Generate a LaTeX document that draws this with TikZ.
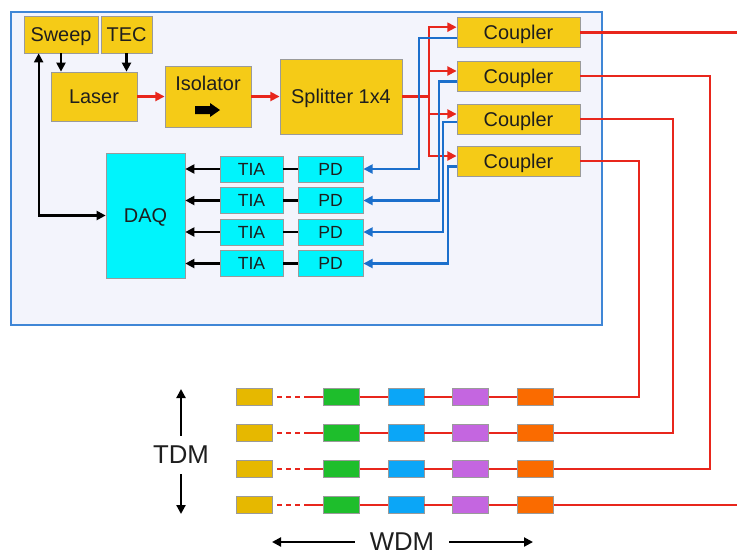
\documentclass[tikz,border=0pt]{standalone}
\usepackage{fontspec}
\setmainfont{Liberation Sans}
\usetikzlibrary{arrows.meta}
\definecolor{ink}{HTML}{1E1E1E}
\definecolor{edgegray}{HTML}{9A9A9A}
\definecolor{labyellow}{HTML}{F5CB17}
\definecolor{daqcyan}{HTML}{00F4FC}
\definecolor{fibred}{HTML}{E8261C}
\definecolor{retblue}{HTML}{1B6FCC}
\definecolor{frameblue}{HTML}{3F86D6}
\definecolor{framefill}{HTML}{F3F4FC}
\definecolor{snsyellow}{HTML}{E6B800}
\definecolor{snsgreen}{HTML}{1EBE2C}
\definecolor{snsblue}{HTML}{0BA6F7}
\definecolor{snspurple}{HTML}{C466E0}
\definecolor{snsorange}{HTML}{FA6B00}

\begin{document}
\begin{tikzpicture}[
  x=0.03cm, y=-0.03cm,
  lab/.style={draw=edgegray, line width=0.6pt, fill=labyellow, inner sep=0pt,
    text=ink, text depth=0pt, font=\fontsize{17}{20}\selectfont},
  acq/.style={draw=edgegray, line width=0.6pt, fill=daqcyan, inner sep=0pt,
    text=ink, text depth=0pt, font=\fontsize{15}{18}\selectfont},
  sensor/.style={draw=edgegray, line width=0.6pt, inner sep=0pt,
    minimum width=1.08cm, minimum height=0.51cm},
  fiber/.style={draw=fibred, line width=2.1pt},
  fibarr/.style={fiber, -{Triangle[length=0.28cm, width=0.27cm]}},
  lead/.style={fiber, dash pattern=on 0pt off 0.15cm on 0.15cm off 0.12cm
    on 0.15cm off 0.12cm on 0.15cm off 0.12cm on 3cm},
  ret/.style={draw=retblue, line width=2.1pt, -{Triangle[length=0.28cm, width=0.27cm]}},
  sig/.style={draw=black, line width=1.8pt, -{Triangle[length=0.27cm, width=0.27cm]}},
  axislab/.style={text=ink, text depth=0pt, font=\fontsize{22}{26}\selectfont}
]
\useasboundingbox (0,0) rectangle (737,555);

\draw[draw=frameblue, fill=framefill, line width=1.2pt] (11,12) rectangle (602,325);

\node[lab, minimum width=2.22cm, minimum height=1.11cm] (sweep) at (61,34.5) {Sweep};
\node[lab, minimum width=1.53cm, minimum height=1.11cm] (tec) at (126.5,34.5) {TEC};
\node[lab, minimum width=2.58cm, minimum height=1.47cm] (laser) at (94,96.5) {Laser};
\node[lab, minimum width=2.58cm, minimum height=1.83cm] (iso) at (208,96.5) {};
\node[text=ink, text depth=0pt, font=\fontsize{17}{20}\selectfont] (isolbl) at (208,83) {Isolator};
\coordinate (isoarr) at (207.5,110);
\fill[black] (isoarr) ++(-12.5,-4) -- ++(15,0) -- ++(0,-3) -- ++(10,7)
  -- ++(-10,7) -- ++(0,-3) -- ++(-15,0) -- cycle;
\node[lab, minimum width=3.66cm, minimum height=2.25cm] (split) at (341,96.5) {Splitter 1x4};

\node[lab, minimum width=3.69cm, minimum height=0.9cm] (cpl1) at (518.5,32.5) {Coupler};
\node[lab, minimum width=3.69cm, minimum height=0.9cm] (cpl2) at (518.5,76) {Coupler};
\node[lab, minimum width=3.69cm, minimum height=0.9cm] (cpl3) at (518.5,119) {Coupler};
\node[lab, minimum width=3.69cm, minimum height=0.9cm] (cpl4) at (518.5,161) {Coupler};

\node[acq, minimum width=2.37cm, minimum height=3.75cm,
  font=\fontsize{17}{20}\selectfont] (daq) at (145.5,215.5) {DAQ};
\node[acq, minimum width=1.89cm, minimum height=0.78cm] (tia1) at (251.5,169) {TIA};
\node[acq, minimum width=1.89cm, minimum height=0.78cm] (tia2) at (251.5,200.5) {TIA};
\node[acq, minimum width=1.89cm, minimum height=0.78cm] (tia3) at (251.5,232) {TIA};
\node[acq, minimum width=1.89cm, minimum height=0.78cm] (tia4) at (251.5,263.5) {TIA};
\node[acq, minimum width=1.95cm, minimum height=0.78cm] (pd1) at (330.5,169) {PD};
\node[acq, minimum width=1.95cm, minimum height=0.78cm] (pd2) at (330.5,200.5) {PD};
\node[acq, minimum width=1.95cm, minimum height=0.78cm] (pd3) at (330.5,232) {PD};
\node[acq, minimum width=1.95cm, minimum height=0.78cm] (pd4) at (330.5,263.5) {PD};

\draw[sig] (sweep.south) -- (sweep.south |- laser.north);
\draw[sig] (tec.south) -- (tec.south |- laser.north);
\draw[sig, {Triangle[length=0.27cm, width=0.27cm]}-{Triangle[length=0.27cm, width=0.27cm]}]
  ([xshift=0.45cm]sweep.south west) |- (daq.west);
\draw[fibarr] (laser) -- (iso);
\draw[fibarr] (iso) -- (split);

\coordinate (bus) at (429,96.5);
\draw[fibarr] (split.east) -- (bus) |- ([yshift=0.16cm]cpl1.west);
\draw[fibarr] (split.east) -- (bus) |- ([yshift=0.15cm]cpl2.west);
\draw[fibarr] (split.east) -- (bus) |- ([yshift=0.15cm]cpl3.west);
\draw[fibarr] (split.east) -- (bus) |- ([yshift=0.15cm]cpl4.west);

\coordinate (ret1) at (419,100);
\coordinate (ret2) at (439,150);
\coordinate (ret3) at (443,180);
\coordinate (ret4) at (448,220);
\draw[ret] ([yshift=-0.17cm]cpl1.west) -| (ret1) |- (pd1.east);
\draw[ret] ([yshift=-0.17cm]cpl2.west) -| (ret2) |- (pd2.east);
\draw[ret] ([yshift=-0.09cm]cpl3.west) -| (ret3) |- (pd3.east);
\draw[ret] ([yshift=-0.17cm]cpl4.west) -| (ret4) |- (pd4.east);

\draw[sig] (tia1) -- (daq.east |- tia1.west);
\draw[sig] (tia2) -- (daq.east |- tia2.west);
\draw[sig] (tia3) -- (daq.east |- tia3.west);
\draw[sig] (tia4) -- (daq.east |- tia4.west);
\draw[line width=1.8pt] (pd1) -- (tia1);
\draw[line width=1.8pt] (pd2) -- (tia2);
\draw[line width=1.8pt] (pd3) -- (tia3);
\draw[line width=1.8pt] (pd4) -- (tia4);

\node[sensor, fill=snsyellow] (yel1) at (254,397) {};
\node[sensor, fill=snsgreen] (grn1) at (341.5,397) {};
\node[sensor, fill=snsblue] (blu1) at (406,397) {};
\node[sensor, fill=snspurple] (pur1) at (470.5,397) {};
\node[sensor, fill=snsorange] (org1) at (535.5,397) {};
\node[sensor, fill=snsyellow] (yel2) at (254,433) {};
\node[sensor, fill=snsgreen] (grn2) at (341.5,433) {};
\node[sensor, fill=snsblue] (blu2) at (406,433) {};
\node[sensor, fill=snspurple] (pur2) at (470.5,433) {};
\node[sensor, fill=snsorange] (org2) at (535.5,433) {};
\node[sensor, fill=snsyellow] (yel3) at (254,469) {};
\node[sensor, fill=snsgreen] (grn3) at (341.5,469) {};
\node[sensor, fill=snsblue] (blu3) at (406,469) {};
\node[sensor, fill=snspurple] (pur3) at (470.5,469) {};
\node[sensor, fill=snsorange] (org3) at (535.5,469) {};
\node[sensor, fill=snsyellow] (yel4) at (254,505) {};
\node[sensor, fill=snsgreen] (grn4) at (341.5,505) {};
\node[sensor, fill=snsblue] (blu4) at (406,505) {};
\node[sensor, fill=snspurple] (pur4) at (470.5,505) {};
\node[sensor, fill=snsorange] (org4) at (535.5,505) {};

\draw[lead] (yel1.east) -- (grn1.west);
\draw[lead] (yel2.east) -- (grn2.west);
\draw[lead] (yel3.east) -- (grn3.west);
\draw[lead] (yel4.east) -- (grn4.west);
\draw[fiber] (grn1) -- (blu1) -- (pur1) -- (org1);
\draw[fiber] (grn2) -- (blu2) -- (pur2) -- (org2);
\draw[fiber] (grn3) -- (blu3) -- (pur3) -- (org3);
\draw[fiber] (grn4) -- (blu4) -- (pur4) -- (org4);

\coordinate (edge1) at (737,32.5);
\coordinate (edge4) at (737,505);
\coordinate (down2) at (710,300);
\coordinate (down3) at (673,300);
\coordinate (down4) at (639,300);
\draw[fiber] (cpl1.east) -- (edge1);
\draw[fiber] (cpl2.east) -| (down2) |- (org3.east);
\draw[fiber] (cpl3.east) -| (down3) |- (org2.east);
\draw[fiber] (cpl4.east) -| (down4) |- (org1.east);
\draw[fiber] (org4.east) -- (edge4);

\node[axislab, inner ysep=0.3cm] (tdm) at (181,455) {TDM};
\coordinate (tdmup) at (181,389);
\coordinate (tdmdown) at (181,514);
\draw[sig] (tdm.north) -- (tdmup);
\draw[sig] (tdm.south) -- (tdmdown);
\node[axislab, inner xsep=0.45cm, inner ysep=0pt] (wdm) at (402,542) {WDM};
\coordinate (wdmleft) at (272,542);
\coordinate (wdmright) at (533,542);
\draw[sig] (wdm.west) -- (wdmleft);
\draw[sig] (wdm.east) -- (wdmright);

\end{tikzpicture}
\end{document}
